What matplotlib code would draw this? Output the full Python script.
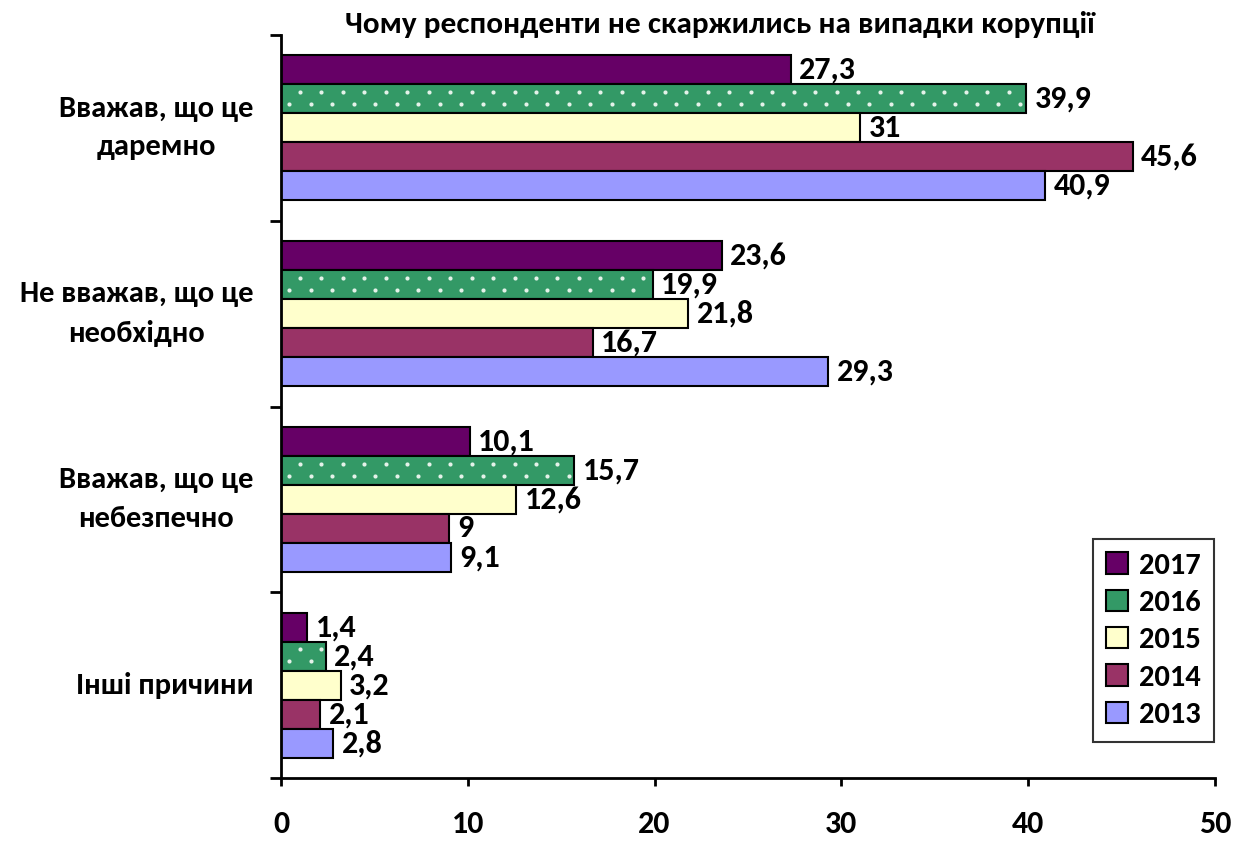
import matplotlib
matplotlib.use("Agg")
import matplotlib.pyplot as plt
import numpy as np

plt.rcParams['font.family'] = ['Carlito', 'DejaVu Sans']

title = "Чому респонденти не скаржились на випадки корупції"
categories = ["Вважав, що це\nдаремно", "Не вважав, що це\nнеобхідно",
              "Вважав, що це\nнебезпечно", "Інші причини"]
years = ["2017", "2016", "2015", "2014", "2013"]
values = {
    "2017": [27.3, 23.6, 10.1, 1.4],
    "2016": [39.9, 19.9, 15.7, 2.4],
    "2015": [31, 21.8, 12.6, 3.2],
    "2014": [45.6, 16.7, 9, 2.1],
    "2013": [40.9, 29.3, 9.1, 2.8],
}
colors = {"2017": "#660066", "2016": "#339966", "2015": "#FFFFCC",
          "2014": "#993366", "2013": "#9999FF"}
xticks = [0, 10, 20, 30, 40, 50]

fig = plt.figure(figsize=(12.47, 8.41), dpi=100)
ax = fig.add_axes([281/1247, 1-778/841, (1215-281)/1247, (778-35)/841])

n = len(years)
bh = 0.156
y = np.arange(len(categories))
for i, yr in enumerate(years):
    pos = y + (i - (n-1)/2) * bh
    vals = values[yr]
    ax.barh(pos, vals, height=bh, color=colors[yr], edgecolor='black',
            linewidth=1.5, label=yr, zorder=2)
    if yr == "2016":
        # white dotted fill pattern
        step = 1.15
        for p, v in zip(pos, vals):
            for off, start in ((-0.23, 1.0), (0.18, 0.45)):
                xs = np.arange(start, v - 0.2, step)
                ax.plot(xs, np.full_like(xs, p + off * bh),
                        linestyle='none', marker='o', markersize=3,
                        color='#E4F2E9', markeredgewidth=0, zorder=3)
    for p, v in zip(pos, vals):
        txt = f"{v:g}".replace('.', ',')
        ax.text(v + 0.45, p, txt, va='center', ha='left', fontsize=23,
                fontweight='bold', zorder=4)

ax.set_ylim(len(categories)-0.5, -0.5)
ax.set_xlim(0, 50)
ax.set_xticks(xticks)
ax.set_xticklabels([str(t) for t in xticks], fontsize=23, fontweight='bold')
ax.tick_params(axis='x', direction='out', length=6, width=2, pad=17)
ax.set_yticks(y)
ax.set_yticklabels(categories, fontsize=22, fontweight='bold',
                   multialignment='center', linespacing=1.6)
for lab in ax.get_yticklabels():
    lab.set_verticalalignment('center')
ax.tick_params(axis='y', length=0, pad=20)
ax.set_yticks(np.arange(-0.5, len(categories)), minor=True)
ax.tick_params(axis='y', which='minor', direction='out', length=8, width=2)

for s in ['top', 'right']:
    ax.spines[s].set_visible(False)
for s in ['left', 'bottom']:
    ax.spines[s].set_linewidth(2)

fig.text(720/1247, 1-25/841, title, ha='center', va='center',
         fontsize=22.5, fontweight='bold')

leg = ax.legend(loc='lower right', bbox_to_anchor=(1214/1247, 1-742/841),
                bbox_transform=fig.transFigure, frameon=True,
                prop={'size': 22, 'weight': 'bold'},
                fancybox=False, edgecolor='black', handlelength=0.7,
                handleheight=0.7, handletextpad=0.35, labelspacing=0.36,
                borderpad=0.45, borderaxespad=0)
leg.get_frame().set_linewidth(1.5)

fig.savefig("out.png", dpi=100)
